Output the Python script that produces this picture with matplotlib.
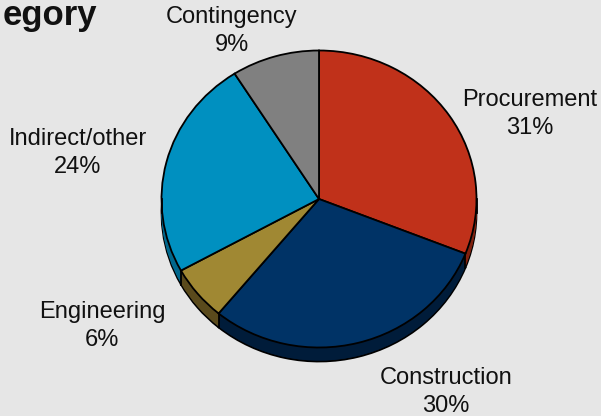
import numpy as np
import matplotlib.pyplot as plt

plt.rcParams['font.family'] = ['Liberation Sans', 'DejaVu Sans']

categories = ['Procurement', 'Construction', 'Engineering', 'Indirect/other', 'Contingency']
shares = [31, 30, 6, 24, 9]
top_colors = ['#C0311A', '#003366', '#A08833', '#0090C0', '#808080']
side_colors = ['#80210F', '#001C3A', '#5A4A1C', '#00678C', '#4A4A4A']

bg = '#E6E6E6'
W, H = 601, 416
cx, cy = 319, 199
rx, ry = 157.5, 148.5
depth = 14 / ry

fig = plt.figure(figsize=(W / 100, H / 100), dpi=100, facecolor=bg)
ax = fig.add_axes([0, 0, 1, 1])


def to_x(px):
    return (px - cx) / rx


def to_y(py):
    return (cy - py) / ry


# extruded side: pies stacked downwards, the last one carries the outline
for off in np.arange(14, 0, -1) / ry:
    edge = 'black' if off == 14 / ry else 'none'
    ax.pie(shares, colors=side_colors, startangle=90, counterclock=False, center=(0, -off),
           wedgeprops={'edgecolor': edge, 'linewidth': 1.3})

# outer edges of the wall
ax.plot([-1, -1], [0, -depth], color='black', lw=1.3)
ax.plot([1, 1], [0, -depth], color='black', lw=1.3)

# vertical lines where slices meet on the visible side
angles = 90 - np.cumsum(shares) / sum(shares) * 360
for a in angles:
    x, y = np.cos(np.radians(a)), np.sin(np.radians(a))
    if y < 0:
        ax.plot([x, x], [y, y - depth], color='black', lw=1.3)

ax.pie(shares, colors=top_colors, startangle=90, counterclock=False,
       wedgeprops={'edgecolor': 'black', 'linewidth': 1.3})

ax.set_aspect('auto')
ax.set_xlim(to_x(0), to_x(W))
ax.set_ylim(to_y(H), to_y(0))
ax.axis('off')

label_pos = [(530, 114), (446, 392), (102, 326), (78, 153), (232, 31)]
for name, val, (px, py) in zip(categories, shares, label_pos):
    ax.text(to_x(px), to_y(py), f'{name}\n{val}%', ha='center', va='center', fontsize=17,
            color='#111111', linespacing=1.3)

ax.text(to_x(97), to_y(16), 'egory', ha='right', va='center', fontsize=25, fontweight='bold',
        color='#111111')

fig.savefig('out.png', dpi=100, facecolor=bg)
